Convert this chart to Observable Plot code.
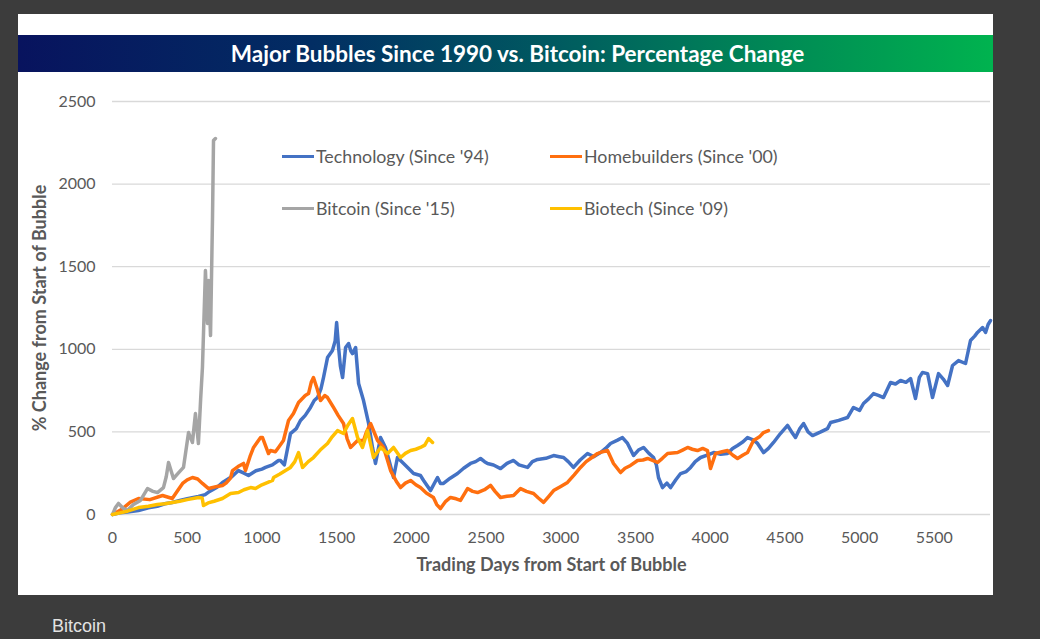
<!DOCTYPE html>
<html>
<head>
<meta charset="utf-8">
<script src="https://cdn.jsdelivr.net/npm/d3@7"></script>
<script src="https://cdn.jsdelivr.net/npm/@observablehq/plot@0.6"></script>
<style>
  html, body { margin:0; padding:0; }
  body { width:1040px; height:639px; background:#3c3c3c; position:relative; overflow:hidden; font-family: Lato, "Open Sans", sans-serif; }
  #panel { position:absolute; left:18px; top:14px; width:975px; height:581px; background:#fff; }
  #titlebar { position:absolute; left:18px; top:35px; width:975px; height:37px;
    background: linear-gradient(to right, #08135e 0%, #022d63 30%, #005a60 55%, #008a55 78%, #00b34f 100%);
    color:#fff; font-weight:bold; font-size:22.5px; line-height:38px; text-align:center; }
  #titlebar span { position:relative; left:12px; }
  #chart { position:absolute; left:0; top:0; }
  #legend { position:absolute; left:0; top:0; }
  .item { position:absolute; height:20px; display:flex; align-items:center; font-size:17.8px; color:#595959; white-space:nowrap; }
  .swatch { width:32px; height:3px; margin-right:2px; }
  #caption { position:absolute; left:52px; top:616px; color:#e2e2e2; font-family:"Liberation Sans", Arial, sans-serif; font-size:18px; }
</style>
</head>
<body>
<div id="panel"></div>
<div id="titlebar"><span>Major Bubbles Since 1990 vs. Bitcoin: Percentage Change</span></div>
<div id="chart"></div>
<div id="legend"></div>
<div id="caption">Bitcoin</div>
<script>
// ---- data ----
const seriesNames = ["Technology (Since '94)", "Homebuilders (Since '00)", "Bitcoin (Since '15)", "Biotech (Since '09)"];
const seriesColors = ["#4472c4", "#ff6f0f", "#a5a5a5", "#ffc000"];
const xTicks = [0, 500, 1000, 1500, 2000, 2500, 3000, 3500, 4000, 4500, 5000, 5500];
const yTicks = [0, 500, 1000, 1500, 2000, 2500];

const techDays = [0,50,100,174,240,300,350,400,450,500,575,620,650,700,736,800,843,880,910,960,1000,1024,1070,1111,1124,1150,1191,1230,1258,1290,1325,1350,1372,1395,1412,1439,1472,1490,1500,1513,1525,1540,1560,1580,1595,1606,1627,1647,1680,1714,1740,1760,1794,1827,1850,1881,1907,1948,1980,2015,2061,2082,2128,2175,2195,2215,2260,2309,2350,2396,2430,2463,2490,2510,2550,2597,2640,2684,2720,2778,2810,2845,2900,2952,2990,3019,3050,3085,3130,3179,3220,3266,3300,3333,3380,3413,3447,3487,3520,3554,3590,3621,3640,3654,3681,3710,3735,3770,3802,3840,3869,3900,3936,3980,4023,4070,4116,4150,4183,4220,4250,4290,4317,4357,4390,4424,4470,4518,4545,4571,4600,4625,4655,4685,4740,4785,4806,4860,4919,4959,5000,5026,5060,5093,5130,5160,5207,5240,5274,5310,5341,5374,5400,5421,5455,5488,5528,5560,5589,5622,5662,5709,5742,5770,5789,5823,5843,5860,5876];
const techPct  = [0,10,15,24,40,50,65,73,85,95,109,120,140,165,194,230,266,250,236,265,275,285,300,327,327,300,490,520,569,600,648,690,708,760,829,950,993,1050,1162,1011,900,829,1011,1035,990,974,1011,793,690,551,406,309,466,406,330,224,345,309,280,248,236,206,145,224,188,188,220,248,280,309,320,339,320,309,300,278,310,327,300,285,320,333,340,357,350,345,320,285,330,369,350,375,400,430,450,466,430,357,390,406,370,345,300,224,163,190,163,210,248,260,285,320,345,360,375,365,369,400,418,440,466,450,430,375,400,436,490,539,500,466,520,551,500,478,500,520,557,570,587,648,630,672,700,732,720,708,799,790,811,800,823,702,830,860,853,708,853,820,781,902,932,914,1053,1080,1102,1132,1102,1150,1174];

const homeDays = [0,60,120,174,250,335,400,440,469,500,535,570,602,643,700,736,760,790,803,840,877,890,920,944,991,1004,1044,1057,1090,1111,1144,1178,1211,1245,1258,1290,1312,1330,1345,1370,1392,1420,1439,1479,1510,1546,1570,1593,1640,1680,1700,1727,1774,1814,1840,1861,1900,1928,1960,1995,2030,2061,2100,2148,2170,2195,2230,2262,2300,2329,2376,2410,2443,2490,2530,2560,2597,2640,2684,2731,2770,2818,2850,2885,2920,2952,3000,3045,3090,3132,3170,3199,3246,3280,3313,3353,3400,3430,3467,3514,3550,3581,3648,3680,3715,3782,3815,3849,3880,3915,3950,3982,4002,4036,4080,4116,4150,4183,4220,4250,4290,4330,4357,4390];
const homePct  = [0,30,75,97,90,115,97,150,188,210,224,215,188,157,170,176,190,220,266,290,309,266,350,406,466,466,369,387,380,406,448,569,611,678,690,720,732,800,829,760,690,720,708,648,600,551,460,406,448,448,500,551,448,406,330,266,200,163,190,206,180,163,130,103,60,36,80,103,95,85,157,140,133,150,176,140,103,110,115,157,140,127,100,73,110,145,170,194,240,285,320,339,369,380,387,309,254,280,297,327,330,339,315,340,369,375,390,406,395,387,400,387,278,369,380,387,360,339,360,375,448,470,496,508];

const btcDays = [0,20,40,70,100,140,187,234,270,301,341,360,375,408,440,475,509,535,555,575,590,602,622,636,643,656,669,676,689];
const btcPct  = [0,42,67,40,24,60,85,157,140,133,163,230,315,218,250,285,496,436,611,430,700,890,1477,1156,1416,1083,1780,2264,2276];

const bioDays = [0,50,100,174,240,300,350,400,450,500,575,600,609,640,680,736,790,843,880,924,957,1000,1040,1071,1078,1120,1158,1191,1220,1245,1272,1310,1345,1390,1439,1470,1506,1546,1575,1606,1640,1673,1707,1747,1794,1841,1881,1928,1960,1995,2030,2061,2090,2115,2142];
const bioPct  = [0,10,20,42,50,60,65,73,80,90,103,100,54,70,80,97,127,133,150,163,157,180,195,206,224,245,266,285,320,375,285,320,345,390,430,470,508,490,540,581,466,406,508,345,406,369,406,345,370,387,395,406,420,460,436];

// ---- build table ----
const seriesDays = [techDays, homeDays, btcDays, bioDays];
const seriesPct = [techPct, homePct, btcPct, bioPct];
const rows = [];
seriesNames.forEach((name, i) => {
  seriesDays[i].forEach((d, j) => rows.push({series: name, day: d, pct: seriesPct[i][j]}));
});

const fontFam = "Lato, 'Open Sans', sans-serif";
const chart = Plot.plot({
  width: 1040,
  height: 600,
  marginLeft: 112,
  marginRight: 50,
  marginTop: 101,
  marginBottom: 86,
  style: {background: "transparent", fontFamily: fontFam, fontSize: "16px", color: "#595959", overflow: "visible"},
  x: {domain: [0, 5876]},
  y: {domain: [0, 2500]},
  color: {domain: seriesNames, range: seriesColors},
  marks: [
    Plot.gridY(yTicks, {stroke: "#d9d9d9", strokeOpacity: 1, strokeWidth: 1.3}),
    Plot.axisX(xTicks, {tickSize: 0, tickPadding: 17, label: null, tickFormat: d => String(d), fill: "#595959"}),
    Plot.axisY(yTicks, {tickSize: 0, tickPadding: 17, label: null, tickFormat: d => String(d), fill: "#595959"}),
    Plot.text(["Trading Days from Start of Bubble"], {frameAnchor: "bottom", dy: 56, fontWeight: "bold", fontSize: 18, fill: "#595959"}),
    Plot.text(["% Change from Start of Bubble"], {frameAnchor: "left", textAnchor: "middle", rotate: -90, dx: -72, fontWeight: "bold", fontSize: 18, fill: "#595959"}),
    Plot.line(rows, {x: "day", y: "pct", z: "series", stroke: "series", strokeWidth: 3.5, strokeLinejoin: "round", curve: "linear"})
  ]
});
document.getElementById("chart").appendChild(chart);

// ---- legend ----
const legendPos = [[282, 146], [550, 146], [282, 198], [550, 198]];
const legend = document.getElementById("legend");
seriesNames.forEach((name, i) => {
  const it = document.createElement("div");
  it.className = "item";
  it.style.left = legendPos[i][0] + "px";
  it.style.top = legendPos[i][1] + "px";
  const sw = document.createElement("div");
  sw.className = "swatch";
  sw.style.background = seriesColors[i];
  const tx = document.createElement("span");
  tx.textContent = name;
  it.appendChild(sw); it.appendChild(tx);
  legend.appendChild(it);
});
</script>
</body>
</html>
